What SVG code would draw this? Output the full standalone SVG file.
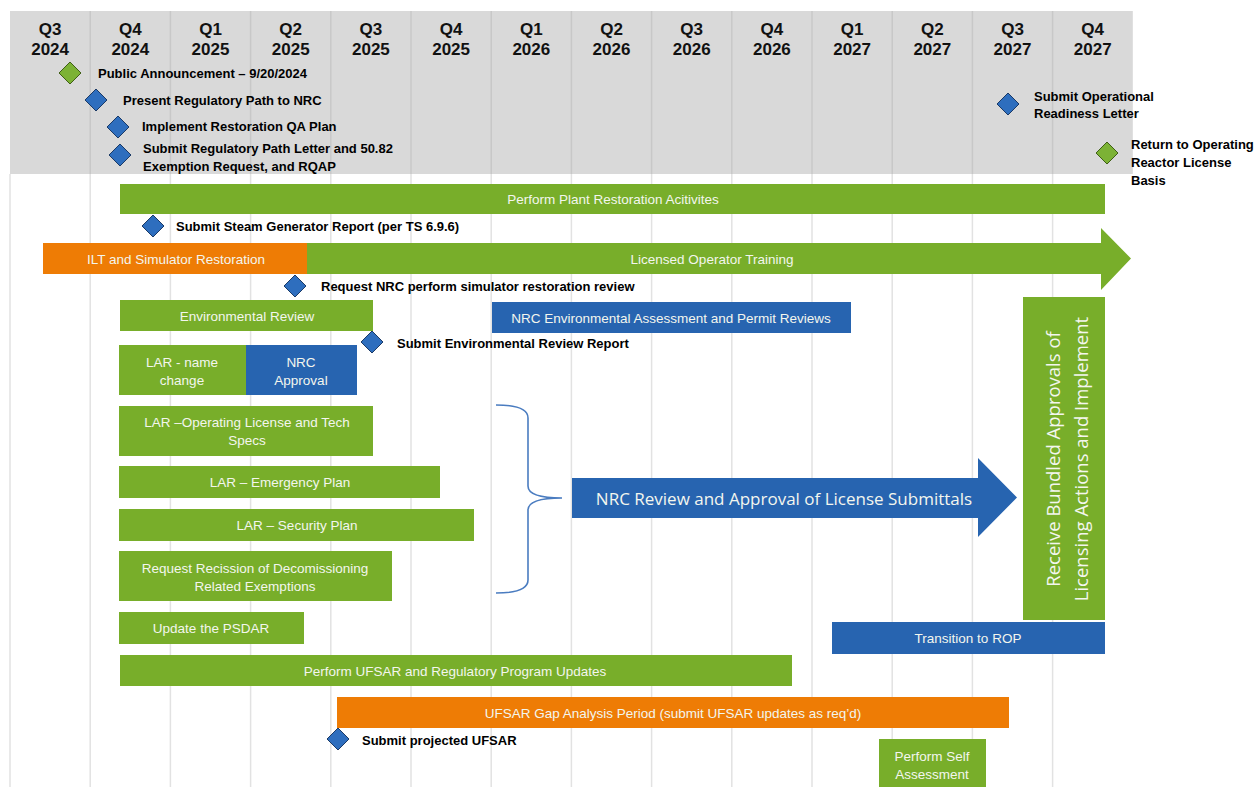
<svg xmlns="http://www.w3.org/2000/svg" width="1255" height="787" viewBox="0 0 1255 787">
<defs>
<style>
.hdr{font-family:"Liberation Sans",Arial,sans-serif;font-weight:bold;font-size:17px;fill:#111;text-anchor:middle}
.ms{font-family:"Liberation Sans",Arial,sans-serif;font-weight:bold;font-size:13px;fill:#000;dominant-baseline:central}
.bl{font-family:"Liberation Sans",Arial,sans-serif;font-size:13.5px;fill:#f3f6ee;text-anchor:middle;dominant-baseline:central}
.big{font-family:"Open Sans","Noto Sans",sans-serif;fill:#f3f6ee;text-anchor:middle;dominant-baseline:central}
.g{fill:#78ae2a}
.b{fill:#2764b0}
.o{fill:#ee7c05}
.dg{fill:#7cb235;stroke:#3f5f16;stroke-width:1}
.db{fill:#2e6ebe;stroke:#1b3a66;stroke-width:1}
.gl{stroke:#e2e2e2;stroke-width:1.5}
.gh{stroke:#c8c8c8;stroke-width:1.5}
</style>
</defs>
<rect width="1255" height="787" fill="#ffffff"/>
<g id="grid">
<rect x="10" y="11" width="1122.8" height="163" fill="#d9d9d9"/>
<g class="gl">
<line x1="10" y1="174" x2="10" y2="787"/><line x1="90.2" y1="174" x2="90.2" y2="787"/><line x1="170.4" y1="174" x2="170.4" y2="787"/><line x1="250.6" y1="174" x2="250.6" y2="787"/><line x1="330.8" y1="174" x2="330.8" y2="787"/><line x1="411" y1="174" x2="411" y2="787"/><line x1="491.2" y1="174" x2="491.2" y2="787"/><line x1="571.4" y1="174" x2="571.4" y2="787"/><line x1="651.6" y1="174" x2="651.6" y2="787"/><line x1="731.8" y1="174" x2="731.8" y2="787"/><line x1="812" y1="174" x2="812" y2="787"/><line x1="892.2" y1="174" x2="892.2" y2="787"/><line x1="972.4" y1="174" x2="972.4" y2="787"/><line x1="1052.6" y1="174" x2="1052.6" y2="787"/>
</g>
<g class="gh">
<line x1="90.2" y1="11" x2="90.2" y2="174"/><line x1="170.4" y1="11" x2="170.4" y2="174"/><line x1="250.6" y1="11" x2="250.6" y2="174"/><line x1="330.8" y1="11" x2="330.8" y2="174"/><line x1="411" y1="11" x2="411" y2="174"/><line x1="491.2" y1="11" x2="491.2" y2="174"/><line x1="571.4" y1="11" x2="571.4" y2="174"/><line x1="651.6" y1="11" x2="651.6" y2="174"/><line x1="731.8" y1="11" x2="731.8" y2="174"/><line x1="812" y1="11" x2="812" y2="174"/><line x1="892.2" y1="11" x2="892.2" y2="174"/><line x1="972.4" y1="11" x2="972.4" y2="174"/><line x1="1052.6" y1="11" x2="1052.6" y2="174"/>
</g>
</g>
<g id="header">
<text class="hdr" x="50.1" y="35">Q3</text><text class="hdr" x="50.1" y="55">2024</text>
<text class="hdr" x="130.3" y="35">Q4</text><text class="hdr" x="130.3" y="55">2024</text>
<text class="hdr" x="210.5" y="35">Q1</text><text class="hdr" x="210.5" y="55">2025</text>
<text class="hdr" x="290.7" y="35">Q2</text><text class="hdr" x="290.7" y="55">2025</text>
<text class="hdr" x="370.9" y="35">Q3</text><text class="hdr" x="370.9" y="55">2025</text>
<text class="hdr" x="451.1" y="35">Q4</text><text class="hdr" x="451.1" y="55">2025</text>
<text class="hdr" x="531.3" y="35">Q1</text><text class="hdr" x="531.3" y="55">2026</text>
<text class="hdr" x="611.5" y="35">Q2</text><text class="hdr" x="611.5" y="55">2026</text>
<text class="hdr" x="691.7" y="35">Q3</text><text class="hdr" x="691.7" y="55">2026</text>
<text class="hdr" x="771.9" y="35">Q4</text><text class="hdr" x="771.9" y="55">2026</text>
<text class="hdr" x="852.1" y="35">Q1</text><text class="hdr" x="852.1" y="55">2027</text>
<text class="hdr" x="932.3" y="35">Q2</text><text class="hdr" x="932.3" y="55">2027</text>
<text class="hdr" x="1012.5" y="35">Q3</text><text class="hdr" x="1012.5" y="55">2027</text>
<text class="hdr" x="1092.7" y="35">Q4</text><text class="hdr" x="1092.7" y="55">2027</text>
</g>
<g id="m-public"><path class="dg" d="M70 62 L81 73 L70 84 L59 73 Z"/><text class="ms" x="98" y="73">Public Announcement – 9/20/2024</text></g>
<g id="m-present"><path class="db" d="M96 89 L107 100 L96 111 L85 100 Z"/><text class="ms" x="123" y="100">Present Regulatory Path to NRC</text></g>
<g id="m-qa"><path class="db" d="M118 116 L129 127 L118 138 L107 127 Z"/><text class="ms" x="142" y="126">Implement Restoration QA Plan</text></g>
<g id="m-letter"><path class="db" d="M120 144 L131 155 L120 166 L109 155 Z"/><text class="ms" x="143" y="148">Submit Regulatory Path Letter and 50.82</text><text class="ms" x="143" y="166">Exemption Request, and RQAP</text></g>
<g id="m-readiness"><path class="db" d="M1008 93 L1019 104 L1008 115 L997 104 Z"/><text class="ms" x="1034" y="96">Submit Operational</text><text class="ms" x="1034" y="113">Readiness Letter</text></g>
<g id="m-return"><path class="dg" d="M1107 142 L1118 153 L1107 164 L1096 153 Z"/><text class="ms" x="1131" y="144">Return to Operating</text><text class="ms" x="1131" y="162">Reactor License</text><text class="ms" x="1131" y="180">Basis</text></g>

<g id="plant-restoration"><rect class="g" x="120" y="184" width="985" height="30"/><text class="bl" x="613" y="199">Perform Plant Restoration Acitivites</text></g>
<g id="m-steam"><path class="db" d="M153 215 L164 226 L153 237 L142 226 Z"/><text class="ms" x="176" y="226">Submit Steam Generator Report (per TS 6.9.6)</text></g>
<g id="licensed-training"><path class="g" d="M307 243 L1101 243 L1101 228 L1131 258.5 L1101 290 L1101 274 L307 274 Z"/><text class="bl" x="712" y="259">Licensed Operator Training</text></g>
<g id="ilt"><rect class="o" x="43" y="243" width="264" height="31"/><text class="bl" x="176" y="259">ILT and Simulator Restoration</text></g>
<g id="m-simreview"><path class="db" d="M295 275 L306 286 L295 297 L284 286 Z"/><text class="ms" x="321" y="286">Request NRC perform simulator restoration review</text></g>
<g id="env-review"><rect class="g" x="120" y="300" width="253" height="31"/><text class="bl" x="247" y="316">Environmental Review</text></g>
<g id="nrc-env"><rect class="b" x="492" y="302" width="359" height="31"/><text class="bl" x="671" y="318">NRC Environmental Assessment and Permit Reviews</text></g>
<g id="m-envreport"><path class="db" d="M372 331 L383 342 L372 353 L361 342 Z"/><text class="ms" x="397" y="343">Submit Environmental Review Report</text></g>
<g id="lar-name"><rect class="g" x="119" y="345" width="127" height="50"/><text class="bl" x="182" y="362">LAR  - name</text><text class="bl" x="182" y="380">change</text></g>
<g id="nrc-approval"><rect class="b" x="246" y="345" width="111" height="50"/><text class="bl" x="301" y="362">NRC</text><text class="bl" x="301" y="380">Approval</text></g>
<g id="lar-oltech"><rect class="g" x="119" y="406" width="254" height="50"/><text class="bl" x="247" y="422">LAR –Operating License and Tech</text><text class="bl" x="247" y="440">Specs</text></g>
<g id="lar-emergency"><rect class="g" x="119" y="466" width="321" height="32"/><text class="bl" x="280" y="482">LAR – Emergency Plan</text></g>
<g id="lar-security"><rect class="g" x="119" y="509" width="355" height="32"/><text class="bl" x="297" y="525">LAR – Security Plan</text></g>
<g id="recission"><rect class="g" x="119" y="551" width="273" height="50"/><text class="bl" x="255" y="568">Request Recission of Decomissioning</text><text class="bl" x="255" y="586">Related Exemptions</text></g>
<g id="psdar"><rect class="g" x="119" y="612" width="185" height="32"/><text class="bl" x="211" y="628">Update the PSDAR</text></g>
<g id="ufsar-updates"><rect class="g" x="120" y="655" width="672" height="31"/><text class="bl" x="455" y="671">Perform UFSAR and Regulatory Program Updates</text></g>
<g id="ufsar-gap"><rect class="o" x="337" y="697" width="672" height="31"/><text class="bl" x="673" y="713">UFSAR Gap Analysis Period (submit UFSAR updates as req’d)</text></g>
<g id="m-projected"><path class="db" d="M338 728 L349 739 L338 750 L327 739 Z"/><text class="ms" x="362" y="740">Submit projected UFSAR</text></g>
<g id="self-assessment"><rect class="g" x="879" y="739" width="107" height="48"/><text class="bl" x="932" y="756">Perform Self</text><text class="bl" x="932" y="774">Assessment</text></g>
<g id="nrc-review"><path class="b" d="M572 478 L978 478 L978 458 L1017 497.5 L978 537 L978 518 L572 518 Z"/><text class="big" x="784" y="498" font-size="17">NRC Review and Approval of License Submittals</text></g>
<g id="bundled"><rect class="g" x="1023" y="297" width="82" height="323"/>
<text class="big" font-size="18.5" transform="translate(1052,459) rotate(-90)">Receive Bundled Approvals of</text>
<text class="big" font-size="18.5" transform="translate(1080,459) rotate(-90)">Licensing Actions and Implement</text></g>
<g id="transition-rop"><rect class="b" x="832" y="622" width="273" height="32"/><text class="bl" x="968" y="638">Transition to ROP</text></g>
<g id="connectors">
<path d="M496 405 Q528 405 528 418 L528 486 Q528 498 562 498 Q528 498 528 510 L528 580 Q528 593 496 593" fill="none" stroke="#4a7cc0" stroke-width="1.6"/>
</g>
</svg>
